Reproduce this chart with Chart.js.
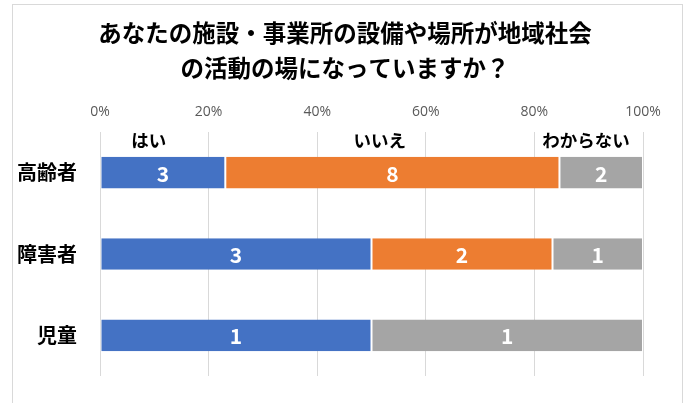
<!DOCTYPE html>
<html><head><meta charset="utf-8">
<script src="https://cdn.jsdelivr.net/npm/chart.js@4.4.1/dist/chart.umd.min.js"></script>
<style>html,body{margin:0;padding:0;background:#fff}#wrap{width:689px;height:403px;position:relative}</style>
</head><body><div id="wrap"><canvas id="c" width="689" height="403"></canvas></div>
<script>
const categories = ['高齢者', '障害者', '児童'];
const seriesNames = ['はい', 'いいえ', 'わからない'];
const yesCounts = [3, 3, 1];
const noCounts = [8, 2, 0];
const unknownCounts = [2, 1, 1];
const tickLabels = ['0%', '20%', '40%', '60%', '80%', '100%'];
const titleLines = ['あなたの施設・事業所の設備や場所が地域社会', 'の活動の場になっていますか？'];
const seriesLabelPos = [9, 51.5, 89.5];

const countSets = [yesCounts, noCounts, unknownCounts];
const colors = ['#4472C4', '#ED7D31', '#A5A5A5'];
const totals = categories.map((_, i) => countSets.reduce((s, a) => s + a[i], 0));
const datasets = countSets.map((arr, k) => ({
  label: seriesNames[k],
  data: arr.map((v, i) => v / totals[i] * 100),
  counts: arr,
  backgroundColor: colors[k],
  borderColor: '#ffffff',
  borderWidth: {left: 1, right: 1, top: 0, bottom: 0},
  borderSkipped: false,
  barPercentage: 0.39,
  categoryPercentage: 1.0
}));

const JP = '"Noto Sans CJK JP", sans-serif';

const deco = {
  id: 'deco',
  beforeDraw(chart) {
    const ctx = chart.ctx;
    ctx.save();
    ctx.fillStyle = '#fff';
    ctx.fillRect(0, 0, chart.width, chart.height);
    ctx.strokeStyle = '#D9D9D9';
    ctx.lineWidth = 1;
    ctx.strokeRect(12.5, 4.5, 670, 420);
    ctx.fillStyle = '#000';
    ctx.font = 'bold 23.5px ' + JP;
    ctx.textAlign = 'center';
    ctx.textBaseline = 'middle';
    ctx.fillText(titleLines[0], 345, 33);
    ctx.fillText(titleLines[1], 345, 68);
    ctx.restore();
  },
  afterDatasetsDraw(chart) {
    const ctx = chart.ctx;
    ctx.save();
    ctx.textAlign = 'center';
    ctx.textBaseline = 'middle';
    ctx.font = 'bold 21px ' + JP;
    ctx.fillStyle = '#fff';
    chart.data.datasets.forEach((ds, k) => {
      const meta = chart.getDatasetMeta(k);
      meta.data.forEach((bar, i) => {
        const c = ds.counts[i];
        if (!c) return;
        ctx.fillText(String(c), (bar.x + bar.base) / 2, bar.y + 1);
      });
    });
    const xs = chart.scales.x;
    ctx.fillStyle = '#000';
    ctx.font = 'bold 17.5px ' + JP;
    seriesNames.forEach((n, k) => {
      ctx.fillText(n, xs.getPixelForValue(seriesLabelPos[k]), chart.chartArea.top + 8);
    });
    ctx.restore();
  }
};

new Chart(document.getElementById('c'), {
  type: 'bar',
  data: { labels: categories, datasets },
  options: {
    indexAxis: 'y',
    responsive: false,
    animation: false,
    layout: { padding: { left: 0, right: 46, top: 0, bottom: 16 } },
    plugins: { legend: { display: false }, tooltip: { enabled: false }, title: { display: false } },
    scales: {
      x: {
        position: 'top',
        stacked: true,
        min: 0, max: 100,
        ticks: {
          stepSize: 20,
          padding: 12,
          color: '#595959',
          font: { family: '"Open Sans", sans-serif', size: 14 },
          callback: (v, i) => tickLabels[i]
        },
        grid: { color: '#D9D9D9', lineWidth: 1, drawTicks: false },
        border: { display: false },
        afterFit(s) { s.height = 132; }
      },
      y: {
        stacked: true,
        ticks: {
          color: '#000',
          padding: 15,
          font: { family: JP, size: 20, weight: 'bold' }
        },
        grid: { display: false },
        border: { display: false },
        afterFit(s) { s.width = 100; }
      }
    }
  },
  plugins: [deco]
});
</script></body></html>
